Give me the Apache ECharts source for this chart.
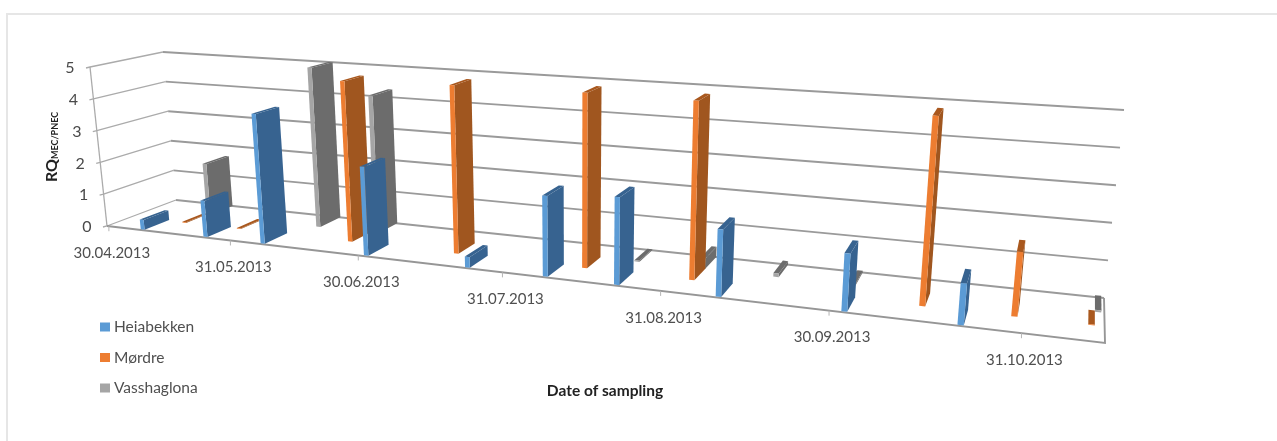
<!DOCTYPE html>
<html>
<head>
<meta charset="utf-8">
<title>RQ by date of sampling</title>
<style>html,body{margin:0;padding:0;background:#fff}#chart{width:1277px;height:441px}</style>
<script src="https://cdn.jsdelivr.net/npm/echarts@6/dist/echarts.min.js"></script>
</head>
<body>
<div id="chart"></div>
<script>
// Sampling dates and RQ values per site
const heiaDates = ['2013-05-08','2013-05-24','2013-06-07','2013-07-01','2013-07-23','2013-08-08','2013-08-22','2013-09-10','2013-10-02','2013-10-21'];
const heiaValues = [0.3,1.1,3.9,2.6,0.3,2.25,2.4,1.8,1.5,1.05];
const mordreDates = ['2013-05-13','2013-05-27','2013-06-23','2013-07-17','2013-08-13','2013-09-03','2013-10-14','2013-10-29','2013-11-10'];
const mordreValues = [0.02,0.02,4.85,4.95,4.98,4.96,4.97,1.65,0.02];
const vassDates = ['2013-05-14','2013-06-11','2013-06-25','2013-08-21','2013-09-03','2013-09-17','2013-10-01','2013-11-11'];
const vassValues = [1.65,5,4.25,0.03,0.3,0.1,0.05,0.05];
const dateTicks = ['2013-04-30','2013-05-31','2013-06-30','2013-07-31','2013-08-31','2013-09-30','2013-10-31'];
const dateLabels = ['30.04.2013','31.05.2013','30.06.2013','31.07.2013','31.08.2013','30.09.2013','31.10.2013'];
const valueTicks = [0,1,2,3,4,5];

const axisMin = new Date(2013,3,29,12).getTime();
const axisMax = axisMin + 197*86400000;
const DAY = 86400000;

// Perspective box: screen corners of the floor and of the ceiling plane
function homography(p0,p1,p2,p3){
  const dx1=p1[0]-p2[0],dx2=p3[0]-p2[0],sx=p0[0]-p1[0]+p2[0]-p3[0];
  const dy1=p1[1]-p2[1],dy2=p3[1]-p2[1],sy=p0[1]-p1[1]+p2[1]-p3[1];
  const den=dx1*dy2-dx2*dy1;
  const g=(sx*dy2-dx2*sy)/den,h=(dx1*sy-sx*dy1)/den;
  const a=p1[0]-p0[0]+g*p1[0],b=p3[0]-p0[0]+h*p3[0],c=p0[0];
  const d=p1[1]-p0[1]+g*p1[1],e=p3[1]-p0[1]+h*p3[1],f=p0[1];
  return (u,v)=>{const q=g*u+h*v+1;return [(a*u+b*v+c)/q,(d*u+e*v+f)/q];};
}
const floorMap = homography([107,226],[1105,343],[1104,298],[176,200]);
const ceilMap  = homography([90,67],[1127,136.5],[1124,110],[163,52]);

// Turns a point of the hidden cartesian grid plus a depth (0 front, 1 back) into a screen point
function project(cs,pt,depth){
  const u=(pt[0]-cs.x)/cs.width, w=(cs.y+cs.height-pt[1])/cs.height;
  const a=floorMap(u,depth), b=ceilMap(u,depth);
  return [a[0]+(b[0]-a[0])*w, a[1]+(b[1]-a[1])*w];
}

function barRenderer(v0,v1,front,side,top){
  return function(params,api){
    const cs=params.coordSys, t=api.value(0), val=api.value(1);
    const l0=api.coord([t,0]), r0=api.coord([t+DAY,0]), l1=api.coord([t,val]), r1=api.coord([t+DAY,val]);
    const P=(p,d)=>project(cs,p,d);
    const poly=(pts,fill)=>({type:'polygon',silent:true,shape:{points:pts},style:{fill:fill}});
    return {type:'group',children:[
      poly([P(r0,v0),P(r0,v1),P(r1,v1),P(r1,v0)],side),
      poly([P(l1,v0),P(r1,v0),P(r1,v1),P(l1,v1)],top),
      poly([P(l0,v0),P(r0,v0),P(r1,v0),P(l1,v0)],front)
    ]};
  };
}
function barSeries(name,dates,values,v0,v1,front,side,top){
  return {name,type:'custom',coordinateSystem:'cartesian2d',clip:false,silent:true,
    itemStyle:{color:front},encode:{x:0,y:1},
    data:dates.map((d,i)=>[d,values[i]]),renderItem:barRenderer(v0,v1,front,side,top)};
}

// Walls: one line per value tick along the side wall and the back wall, with its label
const gridSeries={name:'walls',type:'custom',coordinateSystem:'cartesian2d',clip:false,silent:true,
  encode:{x:0,y:1},data:valueTicks.map(t=>[axisMin,t]),
  renderItem(params,api){
    const cs=params.coordSys,val=api.value(1);
    const a=api.coord([axisMin,val]),b=api.coord([axisMax,val]);
    const p0=project(cs,a,0),p1=project(cs,a,1),p2=project(cs,b,1);
    const kids=[
      {type:'polyline',silent:true,shape:{points:[[p0[0]-4,p0[1]+1],p0,p1]},style:{fill:'none',stroke:'#ababab',lineWidth:1.3}},
      {type:'line',silent:true,shape:{x1:p1[0],y1:p1[1],x2:p2[0],y2:p2[1]},style:{stroke:'#9a9a9a',lineWidth:1.9}},
      {type:'text',silent:true,x:p0[0]-20,y:p0[1]+1,style:{text:String(valueTicks[params.dataIndex]),fill:'#4a4a4a',font:'16px Lato',align:'center',verticalAlign:'middle'}}
    ];
    if(params.dataIndex===0){
      const top=api.coord([axisMin,5]);
      const q=project(cs,b,0);
      kids.push({type:'polyline',silent:true,shape:{points:[project(cs,top,0),p0]},style:{fill:'none',stroke:'#ababab',lineWidth:1.3}});
      kids.push({type:'polyline',silent:true,shape:{points:[p0,q,p2]},style:{fill:'none',stroke:'#969696',lineWidth:1.9}});
    }
    return {type:'group',children:kids};
  }};

// Ticks and date labels under the front edge of the floor
const dateSeries={name:'dates',type:'custom',coordinateSystem:'cartesian2d',clip:false,silent:true,
  encode:{x:0,y:1},data:dateTicks.map(d=>[d,0]),
  renderItem(params,api){
    const p=project(params.coordSys,api.coord([api.value(0),0]),0);
    return {type:'group',children:[
      {type:'line',silent:true,shape:{x1:p[0],y1:p[1],x2:p[0],y2:p[1]+5},style:{stroke:'#b5b5b5',lineWidth:1}},
      {type:'text',silent:true,x:p[0]+3,y:p[1]+27,style:{text:dateLabels[params.dataIndex],fill:'#4f4f4f',font:'15px Lato',align:'center',verticalAlign:'middle'}}
    ]};
  }};

const chart=echarts.init(document.getElementById('chart'),null,{renderer:'canvas'});
chart.setOption({
  animation:false,
  backgroundColor:'#ffffff',
  grid:{left:100,right:100,top:50,bottom:50},
  xAxis:{type:'time',min:axisMin,max:axisMax,show:false},
  yAxis:{type:'value',min:0,max:5,interval:1,show:false},
  legend:{orient:'vertical',left:95,top:314,itemWidth:10,itemHeight:9,itemGap:14.5,icon:'rect',
    selectedMode:false,textStyle:{fontFamily:'Lato',fontSize:15.5,color:'#4f4f4f',padding:[0,0,0,-1]},
    data:['Heiabekken','Mørdre','Vasshaglona']},
  graphic:[
    {type:'polyline',silent:true,shape:{points:[[7,441],[7,14],[1277,14]]},style:{fill:'none',stroke:'#e6e6e6',lineWidth:2}},
    {type:'text',silent:true,x:605,y:391,style:{text:'Date of sampling',fill:'#222',font:'bold 15.5px Lato',align:'center',verticalAlign:'middle'}},
    {type:'text',silent:true,x:52,y:147,rotation:Math.PI/2,style:{text:'{a|RQ}{b|MEC/PNEC}',align:'center',verticalAlign:'middle',
      rich:{a:{font:'bold 16px Lato',fill:'#222',verticalAlign:'bottom'},b:{font:'bold 9px Lato',fill:'#222',verticalAlign:'bottom'}}}}
  ],
  series:[
    gridSeries,
    barSeries('Vasshaglona',vassDates,vassValues,0.65,1,'#a5a5a5','#6c6c6c','#6c6c6c'),
    barSeries('Mørdre',mordreDates,mordreValues,0.34,0.66,'#ed7d31','#a0561f','#a9581e'),
    barSeries('Heiabekken',heiaDates,heiaValues,0.02,0.37,'#5b9bd5','#376390','#376390'),
    dateSeries
  ]
});
</script>
</body>
</html>
